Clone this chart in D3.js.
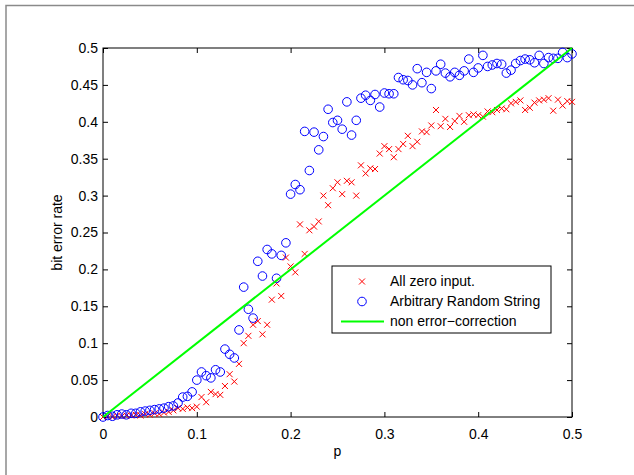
<!DOCTYPE html>
<html>
<head>
<meta charset="utf-8">
<script src="https://cdn.jsdelivr.net/npm/d3@7"></script>
<style>
  body { margin: 0; background: #fff; }
  svg { display: block; font-family: "Liberation Sans", Arial, sans-serif; }
</style>
</head>
<body>
<svg width="634" height="475"></svg>
<script>
const P = [0, 0.005, 0.01, 0.015, 0.02, 0.025, 0.03, 0.035, 0.04, 0.045,
  0.05, 0.055, 0.06, 0.065, 0.07, 0.075, 0.08, 0.085, 0.09, 0.095,
  0.1, 0.105, 0.11, 0.115, 0.12, 0.125, 0.13, 0.135, 0.14, 0.145,
  0.15, 0.155, 0.16, 0.165, 0.17, 0.175, 0.18, 0.185, 0.19, 0.195,
  0.2, 0.205, 0.21, 0.215, 0.22, 0.225, 0.23, 0.235, 0.24, 0.245,
  0.25, 0.255, 0.26, 0.265, 0.27, 0.275, 0.28, 0.285, 0.29, 0.295,
  0.3, 0.305, 0.31, 0.315, 0.32, 0.325, 0.33, 0.335, 0.34, 0.345,
  0.35, 0.355, 0.36, 0.365, 0.37, 0.375, 0.38, 0.385, 0.39, 0.395,
  0.4, 0.405, 0.41, 0.415, 0.42, 0.425, 0.43, 0.435, 0.44, 0.445,
  0.45, 0.455, 0.46, 0.465, 0.47, 0.475, 0.48, 0.485, 0.49, 0.495, 0.5]

// "All zero input." (red x)
const ZERO_INPUT = [0.000, 0.001, 0.000, 0.002, 0.001, 0.002, 0.002, 0.003, 0.002, 0.004,
  0.003, 0.005, 0.004, 0.006, 0.007, 0.009, 0.012, 0.011, 0.013, 0.012,
  0.014, 0.027, 0.020, 0.034, 0.031, 0.030, 0.042, 0.058, 0.048, 0.072,
  0.100, 0.110, 0.125, 0.130, 0.112, 0.125, 0.159, 0.181, 0.164, 0.216,
  0.204, 0.196, 0.261, 0.221, 0.253, 0.258, 0.265, 0.300, 0.287, 0.310,
  0.318, 0.302, 0.320, 0.318, 0.300, 0.341, 0.330, 0.337, 0.336, 0.357,
  0.367, 0.363, 0.352, 0.363, 0.370, 0.381, 0.367, 0.373, 0.387, 0.386,
  0.395, 0.416, 0.394, 0.404, 0.393, 0.401, 0.408, 0.400, 0.409, 0.410,
  0.409, 0.407, 0.414, 0.413, 0.416, 0.418, 0.417, 0.425, 0.427, 0.429,
  0.416, 0.419, 0.426, 0.429, 0.430, 0.432, 0.415, 0.430, 0.422, 0.428, 0.427]

// "Arbitrary Random String" (blue o)
const RANDOM_STRING = [0.000, 0.002, 0.001, 0.003, 0.004, 0.003, 0.005, 0.005, 0.007, 0.008,
  0.009, 0.010, 0.011, 0.012, 0.014, 0.015, 0.019, 0.027, 0.028, 0.034,
  0.050, 0.061, 0.056, 0.053, 0.064, 0.061, 0.092, 0.085, 0.080, 0.118,
  0.176, 0.146, 0.134, 0.211, 0.191, 0.227, 0.221, 0.188, 0.219, 0.236,
  0.302, 0.315, 0.308, 0.387, 0.334, 0.386, 0.362, 0.380, 0.417, 0.399,
  0.402, 0.390, 0.427, 0.382, 0.402, 0.432, 0.436, 0.429, 0.437, 0.420,
  0.439, 0.438, 0.438, 0.460, 0.457, 0.456, 0.450, 0.472, 0.453, 0.467,
  0.445, 0.469, 0.478, 0.466, 0.461, 0.467, 0.463, 0.469, 0.485, 0.467,
  0.473, 0.490, 0.475, 0.477, 0.479, 0.478, 0.466, 0.470, 0.479, 0.483,
  0.485, 0.484, 0.480, 0.490, 0.479, 0.487, 0.486, 0.486, 0.494, 0.487, 0.492]

// "non error-correction" reference line
const NO_CORRECTION = [[0, 0], [0.5, 0.5]]

const X_TICKS = [0, 0.1, 0.2, 0.3, 0.4, 0.5]
const Y_TICKS = [0, 0.05, 0.1, 0.15, 0.2, 0.25, 0.3, 0.35, 0.4, 0.45, 0.5]
const LEGEND = ["All zero input.", "Arbitrary Random String", "non error\u2212correction"]

const [LEFT, RIGHT, TOP, BOTTOM] = [103, 572, 48, 417]
const TICK = 5
const FONT = 14

const svg = d3.select("svg")

// figure window edge
svg.append("path")
  .attr("d", "M6,480 V5.5 H640")
  .attr("fill", "none")
  .attr("stroke", "#8a8a8a")
  .attr("stroke-width", 1.5)

const x = d3.scaleLinear().domain([0, 0.5]).range([LEFT, RIGHT])
const y = d3.scaleLinear().domain([0, 0.5]).range([BOTTOM, TOP])

const fmt = (d) => d === 0 ? "0" : String(d)

const styleAxis = (g) => {
  g.select(".domain").remove()
  g.selectAll("line").attr("stroke", "#000")
  g.selectAll("text").attr("font-size", FONT).attr("fill", "#000")
}

svg.append("g")
  .attr("transform", `translate(0,${BOTTOM})`)
  .call(d3.axisBottom(x).tickValues(X_TICKS).tickFormat(fmt).tickSizeInner(-TICK).tickSizeOuter(0).tickPadding(12))
  .call(styleAxis)
svg.append("g")
  .attr("transform", `translate(0,${TOP})`)
  .call(d3.axisTop(x).tickValues(X_TICKS).tickFormat("").tickSizeInner(-TICK).tickSizeOuter(0))
  .call(styleAxis)
svg.append("g")
  .attr("transform", `translate(${LEFT},0)`)
  .call(d3.axisLeft(y).tickValues(Y_TICKS).tickFormat(fmt).tickSizeInner(-TICK).tickSizeOuter(0).tickPadding(5))
  .call(styleAxis)
svg.append("g")
  .attr("transform", `translate(${RIGHT},0)`)
  .call(d3.axisRight(y).tickValues(Y_TICKS).tickFormat("").tickSizeInner(-TICK).tickSizeOuter(0))
  .call(styleAxis)

svg.append("rect")
  .attr("x", LEFT).attr("y", TOP)
  .attr("width", RIGHT - LEFT).attr("height", BOTTOM - TOP)
  .attr("fill", "none").attr("stroke", "#000").attr("stroke-width", 1)

const plot = svg.append("g")

// red crosses
const crossPath = (cx, cy, s) => `M${cx - s},${cy - s}L${cx + s},${cy + s}M${cx - s},${cy + s}L${cx + s},${cy - s}`
plot.selectAll("path.zero")
  .data(P.map((p, i) => [p, ZERO_INPUT[i]]))
  .enter()
  .append("path")
  .classed("zero", true)
  .attr("d", (d) => crossPath(x(d[0]), y(d[1]), 3))
  .attr("stroke", "#ff0000")
  .attr("stroke-width", 1)

// blue circles
plot.selectAll("circle.rand")
  .data(P.map((p, i) => [p, RANDOM_STRING[i]]))
  .enter()
  .append("circle")
  .classed("rand", true)
  .attr("cx", (d) => x(d[0]))
  .attr("cy", (d) => y(d[1]))
  .attr("r", 4.3)
  .attr("fill", "none")
  .attr("stroke", "#0000ff")
  .attr("stroke-width", 1)

// green line
plot.append("path")
  .datum(NO_CORRECTION)
  .attr("d", d3.line().x((d) => x(d[0])).y((d) => y(d[1])))
  .attr("stroke", "#00ff00")
  .attr("stroke-width", 2)
  .attr("fill", "none")

// axis labels
svg.append("text")
  .attr("x", (LEFT + RIGHT) / 2).attr("y", 456)
  .attr("text-anchor", "middle").attr("font-size", FONT)
  .text("p")
svg.append("text")
  .attr("transform", `translate(62,${(TOP + BOTTOM) / 2}) rotate(-90)`)
  .attr("text-anchor", "middle").attr("font-size", FONT)
  .text("bit error rate")

// legend
const legend = svg.append("g").attr("transform", "translate(332,266)")
legend.append("rect")
  .attr("width", 219).attr("height", 67)
  .attr("fill", "#fff").attr("stroke", "#000").attr("stroke-width", 1)

const rows = legend.selectAll("g.row")
  .data(LEGEND)
  .enter()
  .append("g")
  .classed("row", true)
  .attr("transform", (d, i) => `translate(0,${15.5 + i * 20})`)

rows.append("text")
  .attr("x", 58).attr("y", 0).attr("dy", "0.35em")
  .attr("font-size", FONT)
  .text((d) => d)

rows.filter((d, i) => i === 0).append("path")
  .attr("d", crossPath(30, 0, 3))
  .attr("stroke", "#ff0000")
rows.filter((d, i) => i === 1).append("circle")
  .attr("cx", 30).attr("cy", 0).attr("r", 4.3)
  .attr("fill", "none").attr("stroke", "#0000ff")
rows.filter((d, i) => i === 2).append("line")
  .attr("x1", 9).attr("x2", 52).attr("y1", 0).attr("y2", 0)
  .attr("stroke", "#00ff00").attr("stroke-width", 2)
</script>
</body>
</html>
